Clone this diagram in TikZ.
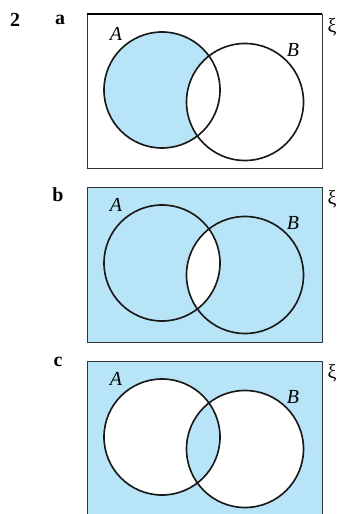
\documentclass[tikz,border=0pt]{standalone}
\usepackage{fontspec}
\setmainfont{Liberation Serif}
\definecolor{vennblue}{RGB}{184,228,247}
\newcommand{\setA}{(75,76) circle[radius=58]}
\newcommand{\setB}{(158,88) circle[radius=58.5]}
\begin{document}
\begin{tikzpicture}[x=0.03cm, y=-0.03cm,
    venn/.style={draw=black!90, line width=1.4pt},
    frame/.style={draw=black!80, line width=0.7pt},
    setlabel/.style={font=\fontsize{17}{20}\selectfont\itshape},
    partlabel/.style={font=\fontsize{17}{20}\selectfont\bfseries},
    unilabel/.style={font=\fontsize{17}{20}\selectfont}
]
    \useasboundingbox (0,0) rectangle (342,514);
    \clip (0,0) rectangle (342,514);

    \node[partlabel] (qno) at (15,20) {2};

    % part a: A only
    \begin{scope}[shift={(87,14)}]
        \fill[vennblue] \setA;
        \fill[white] \setB;
        \draw[venn] \setA \setB;
        \draw[frame] (0,0) rectangle (235,154);
        \draw[line width=1.5pt] (0,0) -- (235,0);
        \node[partlabel] (pa) at (-27,6) {a};
        \node[setlabel] (la) at (29,20) {A};
        \node[setlabel] (lb) at (206,36) {B};
        \node[unilabel] (xa) at (245,13) {ξ};
    \end{scope}

    % part b: everything except the intersection
    \begin{scope}[shift={(87,187)}]
        \fill[vennblue] (0,0) rectangle (235,155);
        \begin{scope}
            \clip \setA;
            \fill[white] \setB;
        \end{scope}
        \draw[venn] \setA \setB;
        \draw[frame] (0,0) rectangle (235,155);
        \node[partlabel] (pb) at (-29,8) {b};
        \node[setlabel] (la) at (29,18) {A};
        \node[setlabel] (lb) at (206,36) {B};
        \node[unilabel] (xb) at (245,12) {ξ};
    \end{scope}

    % part c: intersection and outside
    \begin{scope}[shift={(87,361)}]
        \fill[vennblue] (0,0) rectangle (235,155);
        \fill[white] \setA \setB;
        \begin{scope}
            \clip \setA;
            \fill[vennblue] \setB;
        \end{scope}
        \draw[venn] \setA \setB;
        \draw[frame] (0,0) rectangle (235,155);
        \node[partlabel] (pc) at (-29,1) {c};
        \node[setlabel] (la) at (29,18) {A};
        \node[setlabel] (lb) at (206,36) {B};
        \node[unilabel] (xc) at (245,12) {ξ};
    \end{scope}
\end{tikzpicture}
\end{document}
